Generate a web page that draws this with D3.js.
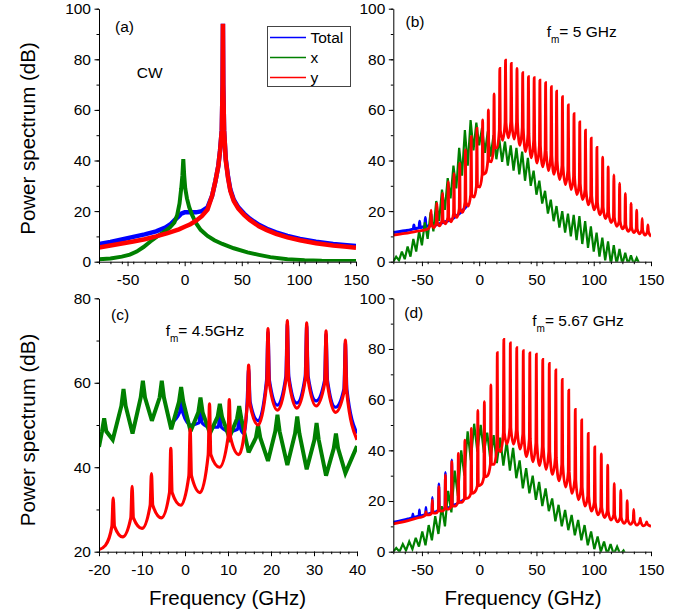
<!DOCTYPE html>
<html>
<head>
<meta charset="utf-8">
<script src="https://cdn.jsdelivr.net/npm/d3@7/dist/d3.min.js"></script>
<style>
body { margin: 0; background: #fff; }
text { font-family: Arial, "Liberation Sans", sans-serif; }
</style>
</head>
<body>
<svg width="694" height="615"></svg>
<script>
// ---- panel (a): CW ----
var aTotal = [[-75,7],[-65,7.8],[-55,8.8],[-45,9.8],[-35,10.8],[-25,12],[-17,13.5],[-12,15],[-8,16.8],[-5,18],[-3,19],[0,19.5],[5,19.5],[10,19.5],[15,20],[20,21.5],[24,26],[27,32],[29.5,38],[31,44],[32.5,52],[33.2,70],[33.5,94],[33.8,70],[34.5,52],[36,40.5],[38,33.5],[40,28.5],[43,24.5],[47,21.5],[52,19],[57,17],[65,14.6],[72,13],[80,11.6],[90,10.2],[101,9],[115,7.9],[130,7],[142,6.5],[150,6.2]];
var aX = [[-75,1],[-65,1.3],[-55,2],[-48,2.8],[-42,4],[-36,5.8],[-30,8],[-24,10],[-18,11.8],[-13,13.5],[-9,15.5],[-6.5,18.5],[-4.5,23],[-3,29],[-2,34],[-1.2,40.5],[-0.4,34],[0.5,29],[2,25],[4,21.5],[6.5,18.5],[10,15.2],[14,12.6],[20,10.2],[26,8.5],[33,7],[43,5.3],[55,3.7],[65,2.7],[75,1.8],[90,1],[105,0.6],[120,0.4],[150,0.3]];
var aY = [[-75,5.6],[-65,6.4],[-55,7.2],[-45,8],[-35,8.9],[-25,10],[-15,11.3],[-5,12.8],[0,13.8],[5,14.8],[10,16.2],[15,18],[20,20.6],[24,26],[27,32],[29.5,38],[31,44],[32.5,52],[33.2,70],[33.5,94],[33.8,70],[34.5,52],[36,40],[38,33],[40,28],[43,24],[47,21],[52,18.5],[57,16.5],[65,14],[72,12.5],[80,11],[90,9.6],[101,8.5],[115,7.3],[130,6.4],[142,5.9],[150,5.5]];

// ---- panel (b): fm = 5 GHz ----
// spikes: [freq, shoulder dB, top dB]; troughs / hi / lo: [freq, dB]
var bTotalSpikes = [[-57,13,14.5],[-52,13.5,16],[-47,14,17.5],[-42,14.5,19]];
var bTotalTroughs = [[-75,11.5],[-65,12.2],[-59.5,12.7],[-54.5,13.2],[-49.5,13.7],[-44.5,14.1],[-39.5,14.4],[-34.5,15],[-29.5,15.8],[-24.5,16.6],[-19.5,18.2],[-14.5,20.2],[-10,22.5]];
var bXHi = [[-72.5,2],[-67.5,4],[-62.5,6],[-57.5,9],[-52.5,12],[-47.5,15.5],[-42.5,19.5],[-37.5,24],[-32.5,28.5],[-27.5,33],[-22.5,38],[-17.5,45],[-12.5,52],[-7.5,56],[-2.5,55],[2.5,53],[7.5,51.5],[12.5,50],[17.5,48.5],[22.5,47.5],[27.5,46],[32.5,45],[37.5,43.5],[42.5,41],[47.5,36],[52.5,32],[57.5,28],[62.5,24.5],[67.5,22],[72.5,20],[77.5,19],[82.5,18.5],[87.5,18],[92.5,16],[97.5,14],[102.5,11.5],[107.5,9.5],[112.5,8],[117.5,6.5],[122.5,5],[127.5,3.5],[132.5,2.5],[137.5,1.5]];
var bXLo = [[-75,0],[-70,0.5],[-65,1],[-60,2],[-55,4],[-50,6.5],[-45,9],[-40,12],[-35,16],[-30,20.5],[-25,25],[-20,29],[-15,34],[-10,38],[-5,44],[0,46],[5,43],[10,41.5],[15,40.5],[20,39.5],[25,38],[30,36],[35,34.5],[40,32],[45,30],[50,26.5],[55,23],[60,19],[65,16],[70,13.5],[75,11.5],[80,10],[85,8.5],[90,7],[95,5.5],[100,4],[105,2],[110,0.5],[115,-1],[120,-1],[125,-1],[130,-1],[135,-1],[140,-1]];
var bYSpikes = [[-42,15,20.4],[-37,15.5,23],[-32,16.5,27],[-27,17.5,31.6],[-22,19,34.9],[-17,21,38.9],[-12,23.5,44.2],[-7,26.5,49.4],[-2,30,52.7],[3,34.5,56],[8,40,60],[13,45,66.3],[18,52,76.4],[23,55,79.7],[28,55.5,78.4],[33,55,76.4],[38,53,74.7],[43,50.5,73.1],[48,48,72.7],[53,46,71.8],[58,44,70.8],[63,42,69.2],[67.6,40,67.4],[72.7,38,65.2],[77.8,36,62],[82.8,33.5,58.5],[87.8,31,55.3],[92.8,28.5,52],[97.8,26,48.8],[102.8,23.5,45.2],[107.8,21.5,41.3],[112.6,19.5,37.5],[117.6,17.5,34.3],[122.6,16,31],[127.6,14.5,27],[132.6,13.5,23],[137.5,13,20.4],[142.3,12.5,17.1],[147.3,12,14.5]];
var bYTroughs = [[-75,10.5],[-65,11.2],[-55,12],[-47,12.6],[-44.5,13],[-39.5,13.5],[-34.5,14.2],[-29.5,15],[-24.5,15.8],[-19.5,17.5],[-14.5,19.5],[-9.5,22],[-4.5,25.5],[0.5,29.5],[5.5,35],[10.5,39.5],[15.5,45],[20.5,48],[25.5,49],[30.5,48.5],[35.5,46],[40.5,43.5],[45.5,41],[50.5,39],[55.5,37.5],[60.5,36],[65.3,34.5],[70.2,32.5],[75.3,30.5],[80.3,28.5],[85.3,26.5],[90.3,24.5],[95.3,22.5],[100.3,20.5],[105.3,18.5],[110.2,17],[115.1,15.5],[120.1,14],[125.1,13],[130.1,12],[135,11.5],[139.9,11],[144.8,10.5],[150,10]];

// ---- panel (c): fm = 4.5 GHz ----
var cTotalSpikes = [[-0.9,53,57],[3.6,50.5,54.5],[8.1,49.5,53],[12.6,49,53],[14.8,55.5,63.5],[19.3,60.5,72],[23.8,61.5,74],[28.3,61.5,73.5],[32.8,60.5,71.5],[37.3,58.5,69.5]];
var cTotalTroughs = [[-3.2,50.5],[1.3,50],[5.8,49.5],[10.3,48.5],[13.7,48],[17,51],[21.5,54.7],[26,55.2],[30.5,55.7],[35,54.2],[40,48]];
var cXSpikes = [[-18.8,48.5,51.6],[-14.3,54.5,58.5],[-9.8,56.5,60.5],[-5.4,56.5,60.5],[-0.9,55.5,59],[3.6,53,56.5],[8.1,52,55],[12.6,51.5,54.5],[17,47,50],[21.5,48.5,52.4],[26.1,48,52],[30.6,46.5,50.5],[35.1,44.5,48]];
var cXTroughs = [[-20,44.8],[-16.8,46.5],[-12.2,48],[-7.7,51],[-3.2,49],[1.3,48.5],[5.8,48],[10.3,47],[14.8,43.5],[19.3,41.5],[23.8,40.5],[28.3,39.5],[32.8,38],[37.3,38.6],[40,45]];
var cYSpikes = [[-16.7,26,32.7],[-12.3,28,35.5],[-7.8,31,38.5],[-3.3,34,44.5],[1.2,38,49],[5.7,43,55],[10.3,47,56],[14.8,55,64.2],[19.3,60,72.8],[23.8,61,74.7],[28.3,61,74.2],[32.8,60,72.3],[37.3,58,70.1]];
var cYTroughs = [[-20,20.5],[-18.5,21.5],[-14.5,23.5],[-10,25.5],[-5.5,28],[-1,31],[3.5,34],[8,40],[12.5,43],[17,50],[21.5,53.5],[26,54],[30.5,54.5],[35,53],[40,46.5]];

// ---- panel (d): fm = 5.67 GHz ----
var dTotalSpikes = [[-57.9,13.6,15],[-52.2,14.2,16.5],[-46.5,14.8,17.5],[-40.9,15.6,21.5],[-35.2,16.5,26.8],[-29.5,17.3,31.3],[-23.9,18.3,36.3]];
var dTotalTroughs = [[-75,11.7],[-62,13],[-55,13.8],[-49.3,14.4],[-43.7,15.1],[-38,15.8],[-32.4,16.6],[-26.7,17.4],[-21,18.6],[-15.4,20],[-12,21]];
var dXHi = [[-72.4,1.5],[-66.7,3],[-61.1,4],[-55.4,5.5],[-49.7,8],[-44.1,10.5],[-38.4,14],[-32.7,18],[-27.1,24],[-21.4,32],[-15.7,40],[-10.1,47.5],[-4.4,50.5],[1.3,50],[7,47],[12.6,46],[18.3,45],[24,43.5],[29.6,41],[35.3,36],[41,33],[46.7,30],[52.3,27.5],[58,25],[63.7,21],[69.3,18.5],[75,16.5],[80.7,14.5],[86.4,12.5],[92,10.5],[97.7,8],[103.4,6],[109,4],[114.7,3],[120.4,2],[126,0.5]];
var dXLo = [[-75,0],[-69.6,0],[-63.9,0.5],[-58.3,1],[-52.6,2],[-46.9,2.5],[-41.3,4.5],[-35.6,7],[-29.9,10],[-24.3,15.5],[-18.6,22],[-12.9,30],[-7.3,36],[-1.6,39.5],[4.1,39],[9.8,36],[15.4,35],[21.1,34],[26.8,32],[32.4,29],[38.1,25],[43.8,23],[49.5,20.5],[55.1,18],[60.8,16],[66.5,12],[72.1,10],[77.8,8.5],[83.5,6.5],[89.2,4.5],[94.8,2.5],[100.5,1],[106.2,0],[111.8,-1],[117.5,-1],[123.2,-1],[128.8,-2]];
var dYSpikes = [[-46.5,14.5,15.8],[-40.9,15.3,20.4],[-35.2,16.2,25.7],[-29.5,17,30.3],[-23.9,18,35.5],[-18.2,19.5,38.8],[-12.5,21,44],[-6.9,23,48.7],[-1.2,26,55.8],[4.5,29.5,59.2],[10.2,34.5,65.8],[15.8,41,78.6],[21.5,47,83.8],[27.2,49,82.4],[32.8,48,80.5],[38.5,46.5,79.3],[44.2,44.5,78.5],[49.9,43,78],[55.5,41.5,75.9],[61.2,39.5,74.3],[66.9,37,71.7],[72.5,34.5,68],[78.2,31.5,63.8],[83.9,28.5,56.2],[89.5,25.5,52],[95.2,22,46.7],[100.9,19.5,41.4],[106.6,17.5,38.6],[112.2,16,34.2],[117.9,14.5,27],[123.6,13.5,24.3],[129.2,12.8,20.1],[134.9,12.3,16.7],[140.6,11.8,13.2],[146.2,11,11.8]];
var dYTroughs = [[-75,11],[-62,12.3],[-52,13.5],[-49.3,13.8],[-43.7,14.5],[-38,15.2],[-32.4,16],[-26.7,16.8],[-21,18],[-15.4,19.5],[-9.7,21.2],[-4,23.5],[1.7,26.5],[7.3,30],[13,34.5],[18.7,39.5],[24.3,42.5],[30,42.5],[35.7,40.5],[41.3,37.5],[47,35.5],[52.7,34],[58.4,32.5],[64,30.5],[69.7,28],[75.4,25.5],[81,23],[86.7,20.5],[92.4,18],[98,16],[103.7,14.5],[109.4,13.5],[115,12.5],[120.7,11.8],[126.4,11.2],[132,10.8],[137.7,10.5],[143.4,10.2],[150,10]];

var legendNames = ["Total", "x", "y"];
var colors = {total: "#0000ff", x: "#008000", y: "#ff0000"};

// merge trough points with narrow spikes (w = half width of a spike in GHz)
function comb(troughs, spikes, w) {
  var pts = troughs.map(function(d) { return [d[0], d[1]]; });
  spikes.forEach(function(s) {
    pts.push([s[0] - w, s[1]], [s[0], s[2]], [s[0] + w, s[1]]);
  });
  return pts.sort(function(a, b) { return a[0] - b[0]; });
}
function teeth(hi, lo) {
  return hi.concat(lo).sort(function(a, b) { return a[0] - b[0]; });
}

var svg = d3.select("svg");
var lin = d3.curveLinear, mono = d3.curveMonotoneX;

var panels = [
  {id: "a", x: [99, 356], y: [261.7, 8.7], xd: [-75, 150], yd: [0, 100], xt: [-50, 0, 50, 100, 150], xm: 10, yt: [0, 20, 40, 60, 80, 100], ym: 10,
   curves: [
     {pts: aTotal, c: colors.total, w: 4.5, k: lin},
     {pts: aX, c: colors.x, w: 4, k: lin},
     {pts: aY, c: colors.y, w: 4.5, k: lin}]},
  {id: "b", x: [393.3, 651], y: [261.7, 8.7], xd: [-75, 150], yd: [0, 100], xt: [-50, 0, 50, 100, 150], xm: 10, yt: [0, 20, 40, 60, 80, 100], ym: 10,
   curves: [
     {pts: comb(bTotalTroughs, bTotalSpikes, 0.45), c: colors.total, w: 3, k: mono},
     {pts: teeth(bXHi, bXLo), c: colors.x, w: 2.2, k: lin},
     {pts: comb(bYTroughs, bYSpikes, 0.45), c: colors.y, w: 2.8, k: mono}]},
  {id: "c", x: [99, 357], y: [551.7, 298.3], xd: [-20, 40], yd: [20, 80], xt: [-20, -10, 0, 10, 20, 30, 40], xm: 2, yt: [20, 40, 60, 80], ym: 10,
   curves: [
     {pts: comb(cTotalTroughs, cTotalSpikes, 0.35), c: colors.total, w: 3.2, k: mono},
     {pts: comb(cXTroughs, cXSpikes, 0.5), c: colors.x, w: 4, k: lin},
     {pts: comb(cYTroughs, cYSpikes, 0.3), c: colors.y, w: 3.2, k: mono}]},
  {id: "d", x: [393.3, 651], y: [551.7, 298.3], xd: [-75, 150], yd: [0, 100], xt: [-50, 0, 50, 100, 150], xm: 10, yt: [0, 20, 40, 60, 80, 100], ym: 10,
   curves: [
     {pts: comb(dTotalTroughs, dTotalSpikes, 0.45), c: colors.total, w: 2.6, k: mono},
     {pts: teeth(dXHi, dXLo), c: colors.x, w: 2.2, k: lin},
     {pts: comb(dYTroughs, dYSpikes, 0.45), c: colors.y, w: 2.8, k: mono}]}
];

panels.forEach(function(p) {
  var x = d3.scaleLinear().domain(p.xd).range(p.x);
  var y = d3.scaleLinear().domain(p.yd).range(p.y);
  var g = svg.append("g");

  svg.append("clipPath").attr("id", "clip-" + p.id)
    .append("rect")
      .attr("x", p.x[0]).attr("y", p.y[1])
      .attr("width", p.x[1] - p.x[0]).attr("height", p.y[0] - p.y[1]);

  g.append("g").attr("clip-path", "url(#clip-" + p.id + ")")
    .selectAll("path")
    .data(p.curves)
    .enter().append("path")
      .attr("d", function(d) {
        return d3.line()
          .curve(d.k)
          .x(function(v) { return x(v[0]); })
          .y(function(v) { return y(v[1]); })(d.pts);
      })
      .attr("fill", "none")
      .attr("stroke", function(d) { return d.c; })
      .attr("stroke-width", function(d) { return d.w; })
      .attr("stroke-linejoin", "miter")
      .attr("stroke-miterlimit", 3);

  // minor ticks
  g.append("g").attr("transform", "translate(0," + p.y[0] + ")")
    .call(d3.axisBottom(x).tickValues(d3.range(p.xd[0], p.xd[1] + 0.001, p.xm)).tickFormat("").tickSize(2.5).tickSizeOuter(0))
    .call(function(s) { s.select(".domain").remove(); });
  g.append("g").attr("transform", "translate(" + p.x[0] + ",0)")
    .call(d3.axisLeft(y).tickValues(d3.range(p.yd[0], p.yd[1] + 0.001, p.ym)).tickFormat("").tickSize(2.5).tickSizeOuter(0))
    .call(function(s) { s.select(".domain").remove(); });

  // major axes
  var xa = g.append("g").attr("transform", "translate(0," + p.y[0] + ")")
    .call(d3.axisBottom(x).tickValues(p.xt).tickSize(4.5).tickSizeOuter(0).tickPadding(8));
  var ya = g.append("g").attr("transform", "translate(" + p.x[0] + ",0)")
    .call(d3.axisLeft(y).tickValues(p.yt).tickSize(4.5).tickSizeOuter(0).tickPadding(3.5));
  [xa, ya].forEach(function(a) {
    a.attr("font-family", "Arial, 'Liberation Sans', sans-serif").attr("font-size", 15.5);
    a.selectAll("text").attr("fill", "#000").text(function(d) { return String(d); });
    a.selectAll("line, path").attr("stroke", "#000");
  });
});

// axis titles
[138.5, 430].forEach(function(cy) {
  svg.append("text")
    .attr("transform", "translate(35," + cy + ") rotate(-90)")
    .attr("text-anchor", "middle")
    .attr("font-size", 20.5)
    .text("Power spectrum (dB)");
});
[227.5, 523].forEach(function(cx) {
  svg.append("text")
    .attr("x", cx).attr("y", 605)
    .attr("text-anchor", "middle")
    .attr("font-size", 20.5)
    .text("Frequency (GHz)");
});

// panel labels
var labels = [["(a)", 115, 31.5], ["(b)", 405.5, 26.5], ["(c)", 111, 319.5], ["(d)", 404.3, 317.5], ["CW", 136.7, 77.5]];
labels.forEach(function(l) {
  svg.append("text").attr("x", l[1]).attr("y", l[2]).attr("font-size", 15.5).text(l[0]);
});

// modulation frequency annotations
var fmLabels = [["= 5 GHz", 546.7, 37], ["= 4.5GHz", 165.7, 335.5], ["= 5.67 GHz", 532.3, 325.5]];
fmLabels.forEach(function(l) {
  var t = svg.append("text").attr("x", l[1]).attr("y", l[2]).attr("font-size", 15.5);
  t.append("tspan").text("f");
  t.append("tspan").attr("dy", 6).attr("font-size", 10).text("m");
  t.append("tspan").attr("dy", -6).text(l[0]);
});

// legend in panel (a)
var lg = svg.append("g");
lg.append("rect").attr("x", 267.5).attr("y", 26.5).attr("width", 83).attr("height", 60)
  .attr("fill", "#fff").attr("stroke", "#444").attr("stroke-width", 1);
var lgColors = [colors.total, colors.x, colors.y];
legendNames.forEach(function(n, i) {
  var yy = 37.5 + i * 20;
  lg.append("line").attr("x1", 270).attr("x2", 306).attr("y1", yy).attr("y2", yy)
    .attr("stroke", lgColors[i]).attr("stroke-width", 1.5);
  lg.append("text").attr("x", 310.5).attr("y", yy + 5.5).attr("font-size", 15.5).text(n);
});
</script>
</body>
</html>
